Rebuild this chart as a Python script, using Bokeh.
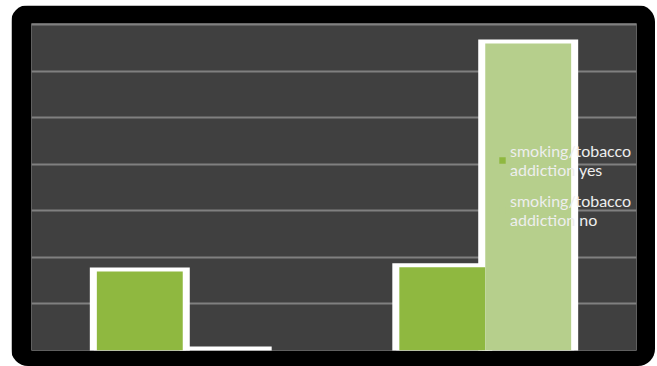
from bokeh.plotting import figure
from bokeh.models import ColumnDataSource, Range1d, FactorRange, Legend, LegendItem, FixedTicker
from bokeh.transform import dodge
from bokeh.embed import file_html
from bokeh.resources import INLINE

# ---- data ----
categories = ["Group 1", "Group 2"]
addiction_yes = [1.70, 1.79]
addiction_no = [0.0, 6.6]
series_labels = ["smoking/tobacco\naddiction yes", "smoking/tobacco\naddiction no"]
y_ticks = [0, 1, 2, 3, 4, 5, 6, 7]

src = ColumnDataSource(dict(cat=categories, yes=addiction_yes, no=addiction_no))

p = figure(width=644, height=361,
           x_range=FactorRange(*categories), y_range=Range1d(0, 7.03),
           output_backend="svg", toolbar_location=None,
           min_border_left=20, min_border_right=19,
           min_border_top=18, min_border_bottom=16)
p.margin = (5, 0, 0, 11)
p.styles = {"border-radius": "17px", "overflow": "hidden"}

p.background_fill_color = "#404040"
p.border_fill_color = "#000000"
p.outline_line_color = None
p.xaxis.visible = False
p.yaxis.visible = False
p.yaxis.ticker = FixedTicker(ticks=y_ticks)
p.ygrid.grid_line_color = "#808080"
p.ygrid.grid_line_width = 2
p.xgrid.grid_line_color = None

bw = 0.284
ow = 0.304
off = bw / 2

# white borders
p.vbar(x=dodge("cat", -off, range=p.x_range), top="yes", width=ow, source=src,
       fill_color="white", line_color="white", line_width=8, line_join="miter")
p.vbar(x=dodge("cat", off, range=p.x_range), top="no", width=ow, source=src,
       fill_color="white", line_color="white", line_width=8, line_join="miter")
# green fills
r_yes = p.vbar(x=dodge("cat", -off, range=p.x_range), top="yes", width=bw, source=src,
               fill_color="#8fb840", line_color=None)
r_no = p.vbar(x=dodge("cat", off, range=p.x_range), top="no", width=bw, source=src,
              fill_color="#b6cf8c", line_color=None)

legend = Legend(items=[LegendItem(label=series_labels[0], renderers=[r_yes]),
                       LegendItem(label=series_labels[1], renderers=[r_no])],
                location=(467, 121),
                background_fill_alpha=0, border_line_alpha=0,
                label_text_color="#eeeeee", label_text_font="Lato",
                label_text_font_size="16px", label_text_line_height=1.2,
                glyph_width=8, glyph_height=8,
                spacing=12, padding=0, margin=0, label_standoff=4)
p.add_layout(legend)

open("out.html", "w").write(file_html(p, INLINE))
